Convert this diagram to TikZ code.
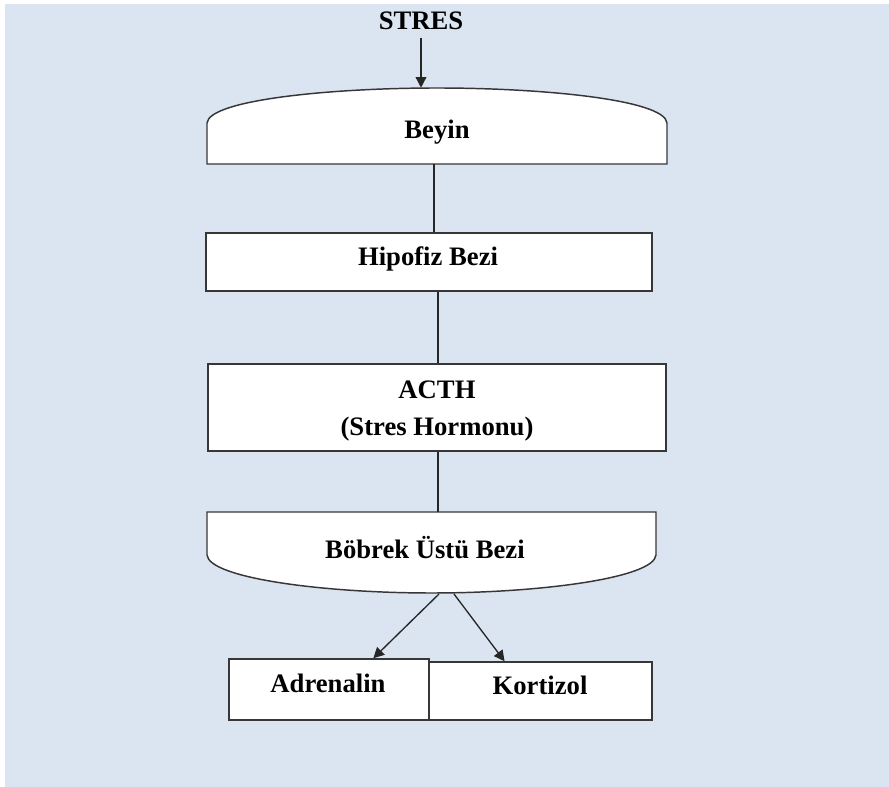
\documentclass[tikz,border=0pt]{standalone}
\usepackage{fontspec}
\setmainfont{Liberation Serif}
\usetikzlibrary{arrows.meta,calc}
\definecolor{bgblue}{RGB}{219,229,241}
\definecolor{edge}{RGB}{55,55,55}
\tikzset{
  txt/.style={font=\fontsize{20}{27.75}\selectfont\bfseries, text=black, inner sep=0pt, anchor=base, align=center},
  hold/.style={rectangle, draw=none, inner sep=0pt},
  boxnode/.style={rectangle, draw=edge, line width=1.1pt, fill=white, inner sep=0pt},
  outline/.style={draw=edge, line width=1.1pt, fill=white},
  link/.style={draw=black!85, line width=1pt},
  arr/.style={link, -{Triangle[length=8pt, width=8pt]}},
}
\begin{document}
\begin{tikzpicture}[x=0.75pt,y=-0.75pt]
\useasboundingbox (0,0) rectangle (889,787);
\fill[bgblue] (5,4) rectangle (889,787);

% shape holders (invisible) for curved shapes
\node[hold, minimum width=345pt, minimum height=57pt] (beyin) at (437,126) {};
\node[hold, minimum width=336.75pt, minimum height=60.75pt] (bob) at (431.5,552.5) {};

% Beyin outline
\draw[outline] (207,164) -- (207,123) .. controls (209,100) and (330,88) .. (437,88)
  .. controls (545,88) and (665,100) .. (667,123) -- (667,164) -- cycle;
% Bobrek outline
\draw[outline] (207,512) -- (656,512) -- (656,555) .. controls (654,578) and (540,593) .. (431.5,593)
  .. controls (323,593) and (209,578) .. (207,555) -- cycle;

% rectangles
\node[boxnode, minimum width=334.5pt, minimum height=43.5pt] (hip) at (429,262) {};
\node[boxnode, minimum width=343.5pt, minimum height=65.25pt] (acth) at (437,407.5) {};
\node[boxnode, minimum width=150pt, minimum height=45.75pt] (adr) at (329,689.5) {};
\node[boxnode, minimum width=167.25pt, minimum height=43.5pt] (kor) at (540.5,691) {};

% texts
\node[txt] (stres) at (421,30) {STRES};
\node[txt] (tbeyin) at (437,139) {Beyin};
\node[txt] (thip) at (428,266) {Hipofiz Bezi};
\node[txt] (tacth) at (437,436) {ACTH\\(Stres Hormonu)};
\node[txt] (tbob) at (425,559) {Böbrek Üstü Bezi};
\node[txt] (tadr) at (328,692) {Adrenalin};
\node[txt] (tkor) at (540,694) {Kortizol};

% connectors
\draw[arr] ($(stres.south)+(0,7)$) -- (stres.south |- beyin.north);
\draw[link] ($(beyin.south)+(-3,0)$) -- ($(beyin.south |- hip.north)+(-3,0)$);
\draw[link] ($(acth.north |- hip.south)+(1,0)$) -- ($(acth.north)+(1,0)$);
\draw[link] ($(acth.south)+(1,0)$) -- ($(acth.south |- bob.north)+(1,0)$);
\coordinate (bobL) at (439,594);
\coordinate (bobR) at (454,594);
\draw[arr] (bobL) -- ($(adr.north west)!0.72!(adr.north east)$);
\draw[arr] (bobR) -- ($(kor.north west)!0.34!(kor.north east)$);
\end{tikzpicture}
\end{document}
